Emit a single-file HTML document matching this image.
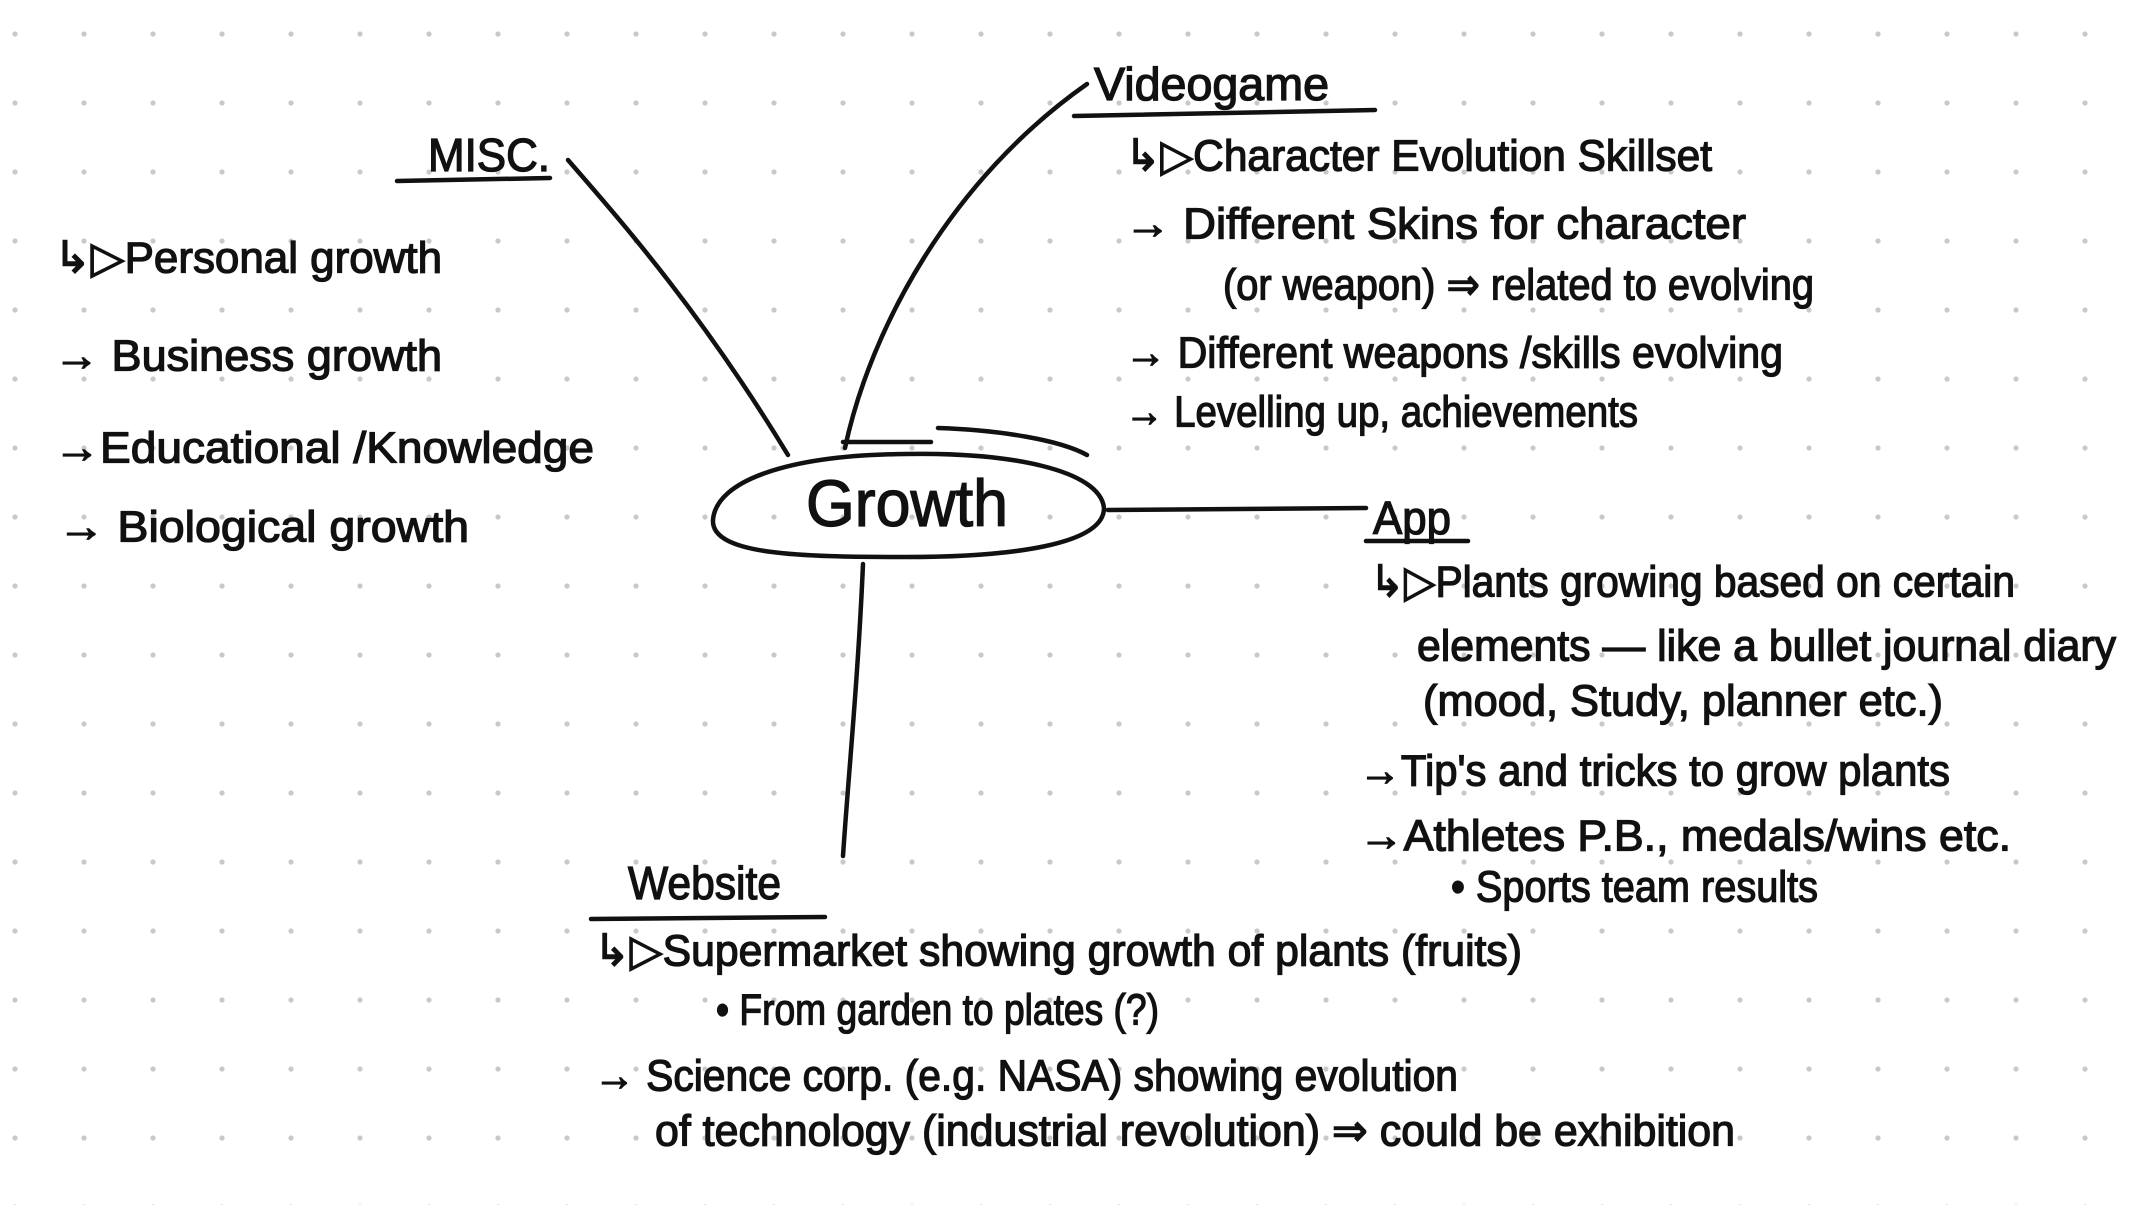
<!DOCTYPE html>
<html><head><meta charset="utf-8"><style>
html,body{margin:0;padding:0;background:#fff;}
svg{display:block;}
text{font-family:"Liberation Sans",sans-serif;fill:#111;stroke:#111;stroke-width:1.3;dominant-baseline:central;}
</style></head><body>
<svg width="2131" height="1205" viewBox="0 0 2131 1205" xmlns="http://www.w3.org/2000/svg">
<defs>
<pattern id="dots" x="-19.5" y="0" width="69" height="69" patternUnits="userSpaceOnUse">
<circle cx="34.5" cy="34" r="2.6" fill="#c9c9c9"/>
</pattern>
</defs>
<rect width="2131" height="1205" fill="#fff"/>
<rect width="2131" height="1205" fill="url(#dots)"/>
<g stroke="#111" stroke-width="4.5" fill="none" stroke-linecap="round">
<path d="M906 454 C1010 452 1100 470 1104 508 C1104 545 1010 557 906 557 C800 557 711 555 713 520 C716 480 790 455 906 454 Z"/>
<path d="M843 442 L931 442"/>
<path d="M938 428 C1000 430 1060 440 1087 455"/>
<path d="M568 160 C620 220 700 310 788 455"/>
<path d="M845 448 C870 330 950 180 1087 84"/>
<path d="M1108 510 L1366 508"/>
<path d="M863 564 C858 680 848 780 843 856"/>
<path d="M397 181 L550 178"/>
<path d="M1074 116 L1375 110"/>
<path d="M1366 541 L1468 541"/>
<path d="M591 919 L825 917"/>
</g>
<text x="428" y="155" font-size="46" textLength="122" lengthAdjust="spacingAndGlyphs">MISC.</text>
<text x="1094" y="84" font-size="46" textLength="235" lengthAdjust="spacingAndGlyphs">Videogame</text>
<text x="1373" y="518" font-size="46" textLength="78" lengthAdjust="spacingAndGlyphs">App</text>
<text x="628" y="883" font-size="46" textLength="153" lengthAdjust="spacingAndGlyphs">Website</text>
<text x="806" y="503" font-size="66" textLength="202" lengthAdjust="spacingAndGlyphs">Growth</text>

<g font-size="44">
<text x="54" y="258" textLength="388" lengthAdjust="spacingAndGlyphs">↳▷Personal growth</text>
<text x="54" y="356" textLength="388" lengthAdjust="spacingAndGlyphs">→ Business growth</text>
<text x="54" y="448" textLength="540" lengthAdjust="spacingAndGlyphs">→Educational /Knowledge</text>
<text x="58" y="527" textLength="411" lengthAdjust="spacingAndGlyphs">→ Biological growth</text>

<text x="1125" y="156" textLength="587" lengthAdjust="spacingAndGlyphs">↳▷Character Evolution Skillset</text>
<text x="1125" y="224" textLength="621" lengthAdjust="spacingAndGlyphs">→ Different Skins for character</text>
<text x="1223" y="285" textLength="591" lengthAdjust="spacingAndGlyphs">(or weapon) ⇒ related to evolving</text>
<text x="1125" y="353" textLength="658" lengthAdjust="spacingAndGlyphs">→ Different weapons /skills evolving</text>
<text x="1125" y="412" textLength="513" lengthAdjust="spacingAndGlyphs">→ Levelling up, achievements</text>

<text x="1370" y="582" textLength="645" lengthAdjust="spacingAndGlyphs">↳▷Plants growing based on certain</text>
<text x="1417" y="646" textLength="699" lengthAdjust="spacingAndGlyphs">elements — like a bullet journal diary</text>
<text x="1423" y="701" textLength="520" lengthAdjust="spacingAndGlyphs">(mood, Study, planner etc.)</text>
<text x="1359" y="771" textLength="591" lengthAdjust="spacingAndGlyphs">→Tip's and tricks to grow plants</text>
<text x="1359" y="836" textLength="652" lengthAdjust="spacingAndGlyphs">→Athletes P.B., medals/wins etc.</text>
<text x="1451" y="887" textLength="367" lengthAdjust="spacingAndGlyphs">• Sports team results</text>

<text x="594" y="951" textLength="928" lengthAdjust="spacingAndGlyphs">↳▷Supermarket showing growth of plants (fruits)</text>
<text x="716" y="1010" textLength="443" lengthAdjust="spacingAndGlyphs">• From garden to plates (?)</text>
<text x="594" y="1076" textLength="864" lengthAdjust="spacingAndGlyphs">→ Science corp. (e.g. NASA) showing evolution</text>
<text x="655" y="1131" textLength="1080" lengthAdjust="spacingAndGlyphs">of technology (industrial revolution) ⇒ could be exhibition</text>
</g>
</svg>
</body></html>
